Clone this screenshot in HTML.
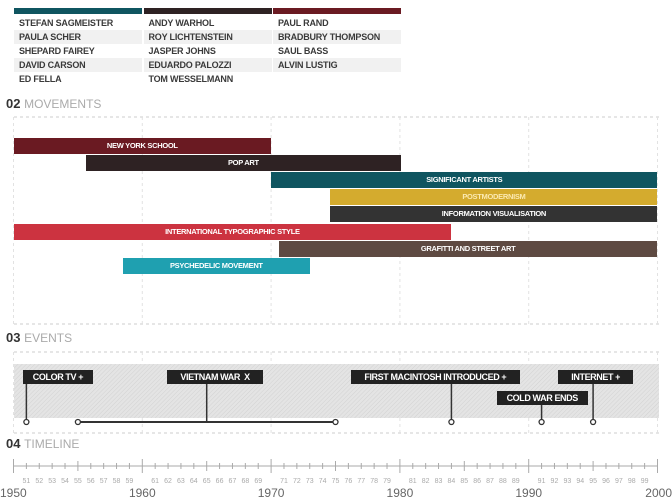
<!DOCTYPE html>
<html><head><meta charset="utf-8">
<style>
body{margin:0;background:#fff;width:672px;height:503px;overflow:hidden;position:relative;font-family:"Liberation Sans",sans-serif;}
.abs{position:absolute;}
.name{position:absolute;font-size:9px;letter-spacing:-0.2px;font-weight:bold;color:#3a3a3a;height:14px;line-height:14px;white-space:nowrap;}
.rowbg{position:absolute;background:#f1f1f1;height:14px;}
.hdr{position:absolute;left:6px;font-size:13px;font-weight:bold;color:#333;white-space:nowrap;}
.hdr span{color:#aaa;font-weight:normal;font-size:12px;}
.bar{position:absolute;height:16px;line-height:16px;color:#fff;font-size:7.5px;letter-spacing:-0.3px;font-weight:bold;text-align:center;white-space:nowrap;}
.ev{position:absolute;background:#222;color:#fff;font-size:9px;letter-spacing:-0.4px;font-weight:bold;height:14px;line-height:14px;text-align:center;white-space:pre;}
</style></head>
<body>
<div id="topbox"></div>
<div class="hdr" style="top:96px">02 <span>MOVEMENTS</span></div>
<div class="hdr" style="top:330px">03 <span>EVENTS</span></div>
<div class="hdr" style="top:436px">04 <span>TIMELINE</span></div>
<svg id="svg" class="abs" style="left:0;top:0" width="672" height="503">
<defs><pattern id="hatch" width="3" height="3" patternUnits="userSpaceOnUse" patternTransform="rotate(45)"><rect width="3" height="3" fill="#e4e4e4"/><line x1="0" y1="0" x2="0" y2="3" stroke="#d2d2d2" stroke-width="1"/></pattern></defs>
</svg>
<div id="html"></div>
<script>
const colNames=[["STEFAN SAGMEISTER","PAULA SCHER","SHEPARD FAIREY","DAVID CARSON","ED FELLA"],["ANDY WARHOL","ROY LICHTENSTEIN","JASPER JOHNS","EDUARDO PALOZZI","TOM WESSELMANN"],["PAUL RAND","BRADBURY THOMPSON","SAUL BASS","ALVIN LUSTIG"]];
const colColors=["#0f5560","#2e2223","#6a1a22"];
const movements=["NEW YORK SCHOOL","POP ART","SIGNIFICANT ARTISTS","POSTMODERNISM","INFORMATION VISUALISATION","INTERNATIONAL TYPOGRAPHIC STYLE","GRAFITTI AND STREET ART","PSYCHEDELIC MOVEMENT"];
const moveStart=[1950,1955.6,1970,1974.6,1974.6,1950,1970.6,1958.5];
const moveEnd=[1970,1980.1,2000,2000,2000,1984,2000,1973];
const moveColors=["#6a1a22","#2e2223","#0f5560","#d4ab2e","#333333","#cc3340","#5e4a42","#1fa0b0"];
const events=["COLOR TV +","VIETNAM WAR  X","FIRST MACINTOSH INTRODUCED +","COLD WAR ENDS","INTERNET +"];
const eventYear=[1951,1965,1984,1991,1995];
const eventRangeStart=[null,1955,null,null,null];
const eventRangeEnd=[null,1975,null,null,null];
const eventLabelStart=[1950.7,1961.9,1976.2,1987.5,1992.3];
const eventLabelEnd=[1956.2,1969.4,1989.3,1994.6,1998.1];
const eventRow=[0,0,0,1,0];
const majorYears=[1950,1960,1970,1980,1990,2000];

const xs=y=>13.5+(y-1950)*12.88;
const svg=document.getElementById('svg');
const NS="http://www.w3.org/2000/svg";
function s(tag,a){const e=document.createElementNS(NS,tag);for(const k in a)e.setAttribute(k,a[k]);svg.appendChild(e);return e;}
const topBox=document.getElementById('topbox');
colNames.forEach((col,ci)=>{
  const cx=14+ci*129.5;
  const b=document.createElement('div');b.className='abs';
  b.style.cssText=`left:${cx}px;top:8px;width:128px;height:6px;background:${colColors[ci]}`;
  
  
  topBox.appendChild(b);
  for(let r=0;r<5;r++){
    if(r%2==1){const bg=document.createElement('div');bg.className='rowbg';bg.style.cssText=`left:${cx}px;top:${16+r*14}px;width:128px`;
      
      
      topBox.appendChild(bg);}
    if(col[r]){const n=document.createElement('div');n.className='name';n.style.left=(cx+5)+'px';n.style.top=(16+r*14)+'px';n.textContent=col[r];
      
      
      topBox.appendChild(n);}
  }
});
[117,324,352,433].forEach(y=>s('line',{x1:14,x2:659,y1:y,y2:y,stroke:'#ccc','stroke-dasharray':'3,3','stroke-width':1}));
majorYears.forEach(yr=>{s('line',{x1:xs(yr),x2:xs(yr),y1:117,y2:324,stroke:'#e2e2e2','stroke-dasharray':'3,3'});s('line',{x1:xs(yr),x2:xs(yr),y1:352,y2:433,stroke:'#e2e2e2','stroke-dasharray':'3,3'});});
const html=document.getElementById('html');
movements.forEach((m,i)=>{
  const d=document.createElement('div');d.className='bar';
  const l=xs(moveStart[i]),r=xs(moveEnd[i]);
  d.style.cssText=`left:${l}px;width:${r-l}px;top:${138+i*17.1}px;background:${moveColors[i]};color:${i==3?'#fbe9b0':'#fff'}`;
  d.textContent=m;
  
  
  html.appendChild(d);
});
s('rect',{x:14,y:364,width:645,height:54,fill:'url(#hatch)'});
events.forEach((ev,i)=>{
  const ty=eventRow[i]?391:370;
  const cx=xs(eventYear[i]);
  if(eventRangeStart[i]!==null){
    s('line',{x1:xs(eventRangeStart[i]),x2:xs(eventRangeEnd[i]),y1:422,y2:422,stroke:'#333','stroke-width':2});
    s('line',{x1:cx,x2:cx,y1:ty+14,y2:422,stroke:'#333','stroke-width':1.5});
    [eventRangeStart[i],eventRangeEnd[i]].forEach(y=>s('circle',{cx:xs(y),cy:422,r:2.5,fill:'#fff',stroke:'#333','stroke-width':1.3}));
  }else{
    s('line',{x1:cx,x2:cx,y1:ty+14,y2:420,stroke:'#333','stroke-width':1.5});
    s('circle',{cx:cx,cy:422,r:2.5,fill:'#fff',stroke:'#333','stroke-width':1.3});
  }
  const d=document.createElement('div');d.className='ev';
  const l=xs(eventLabelStart[i]),r=xs(eventLabelEnd[i]);
  d.style.cssText=`left:${l}px;width:${r-l}px;top:${ty}px`;
  d.textContent=ev;
  
  
  html.appendChild(d);
});
s('line',{x1:xs(1950),x2:xs(2000),y1:466,y2:466,stroke:'#aaa','stroke-width':1});
for(let yr=1950;yr<=2000;yr++){
  const maj=yr%10==0,mid=yr%5==0;
  s('line',{x1:xs(yr),x2:xs(yr),y1:maj?459:(mid?461:463),y2:maj?473:(mid?471:469),stroke:'#aaa','stroke-width':1});
  if(!maj){const t=s('text',{x:xs(yr),y:483,'text-anchor':'middle','font-size':7,fill:'#aaa','font-family':'Liberation Sans, sans-serif'});t.textContent=String(yr%100).padStart(2,'0');}
}
majorYears.forEach((yr,i)=>{const t=s('text',{x:xs(yr),y:497,'text-anchor':i==0?'start':(i==5?'end':'middle'),'font-size':12,fill:'#666','font-family':'Liberation Sans, sans-serif'});if(i==0)t.setAttribute('x',0);if(i==5)t.setAttribute('x',672);t.textContent=yr;});
</script>
</body></html>
